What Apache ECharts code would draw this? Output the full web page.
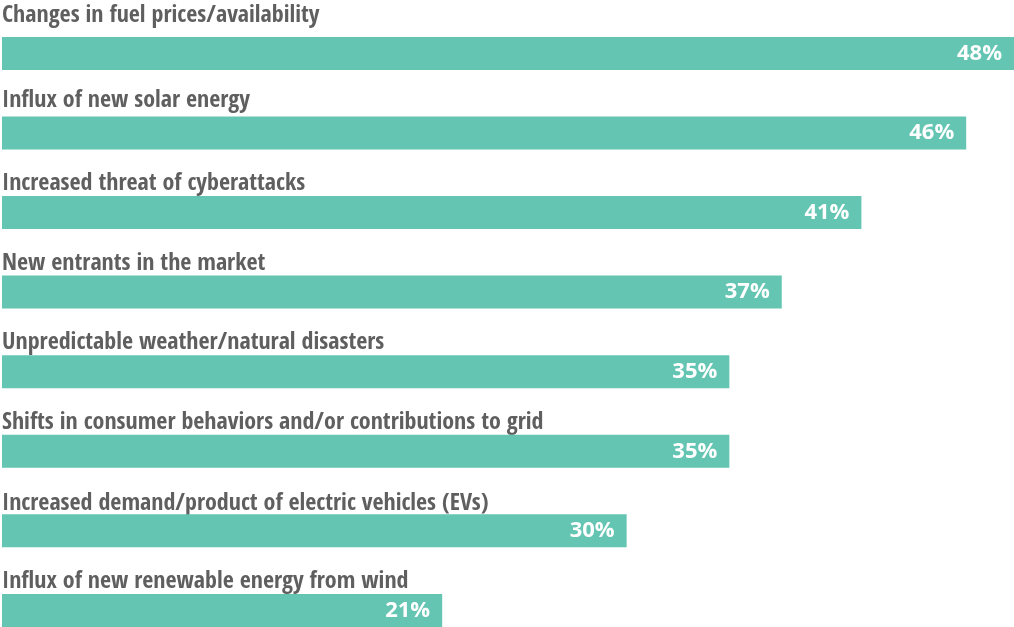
<!DOCTYPE html>
<html>
<head>
<meta charset="utf-8">
<script src="https://cdn.jsdelivr.net/npm/echarts@6/dist/echarts.min.js"></script>
<style>
html,body{margin:0;padding:0;background:#fff;}
#chart{width:1014px;height:627px;}
</style>
</head>
<body>
<div id="chart"></div>
<script>
const categories = [
  "Changes in fuel prices/availability",
  "Influx of new solar energy",
  "Increased threat of cyberattacks",
  "New entrants in the market",
  "Unpredictable weather/natural disasters",
  "Shifts in consumer behaviors and/or contributions to grid",
  "Increased demand/product of electric vehicles (EVs)",
  "Influx of new renewable energy from wind"
];
const values = [48.3, 46.0, 41.0, 37.2, 34.7, 34.7, 29.8, 21.0];

// layout only: how far each category caption sits above its bar
const captionLift = [26, 20.5, 17, 16.6, 17, 16.5, 15.4, 16.7];

const captionFont = {
  fontFamily: '"Open Sans Condensed", sans-serif',
  fontWeight: 'bold', fontSize: 24, color: '#5f5f5f'
};
const rich = {};
captionLift.forEach((p, i) => {
  rich['c' + i] = Object.assign({ padding: [0, 0, p, 0] }, captionFont);
});

const chart = echarts.init(document.getElementById('chart'));
chart.setOption({
  animation: false,
  grid: { left: 2, right: 0, top: 13.6, height: 636.6, containLabel: false, outerBoundsMode: 'none' },
  xAxis: {
    type: 'value', min: 0, max: 48.28,
    show: false
  },
  yAxis: {
    type: 'category', inverse: true, data: categories,
    axisLine: { show: false }, axisTick: { show: false }, splitLine: { show: false },
    axisLabel: Object.assign({
      inside: true, margin: 0, interval: 0, align: 'left', verticalAlign: 'bottom',
      formatter: (v, i) => '{c' + i + '|' + v + '}',
      rich: rich
    }, captionFont)
  },
  series: [{
    type: 'bar', data: values, barWidth: 33,
    itemStyle: { color: '#64c5b2' },
    label: {
      show: true, position: 'insideRight', distance: 12,
      formatter: p => Math.round(p.value) + '%',
      fontFamily: '"Open Sans", sans-serif', fontWeight: 'bold', fontSize: 22, color: '#ffffff'
    }
  }]
});
</script>
</body>
</html>
